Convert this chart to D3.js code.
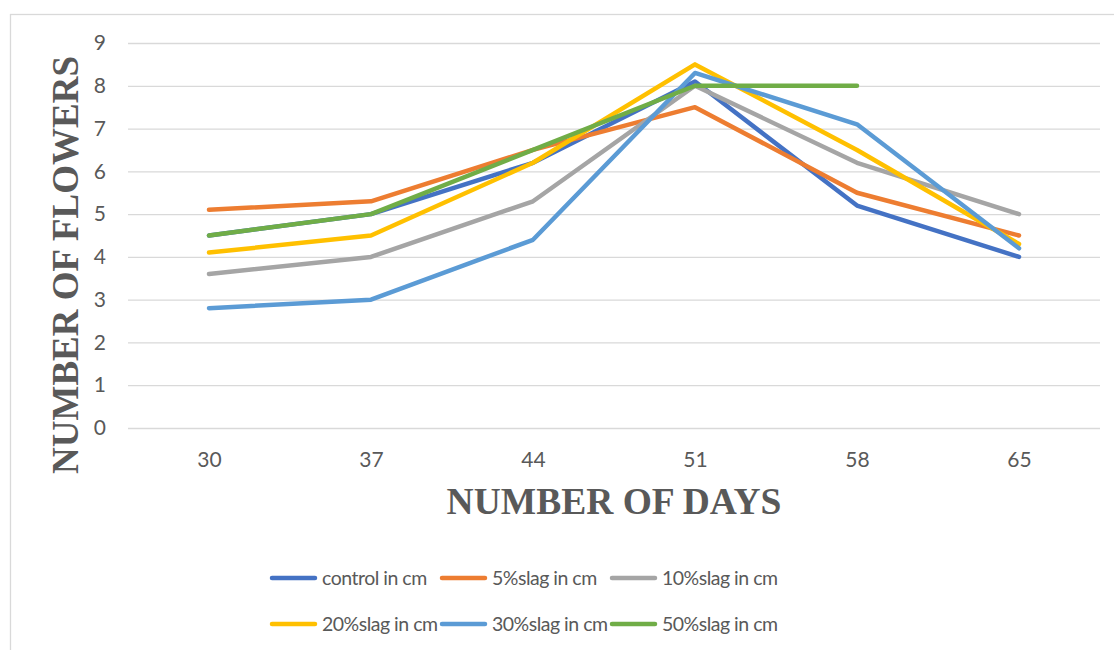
<!DOCTYPE html>
<html>
<head>
<meta charset="utf-8">
<script src="https://cdn.jsdelivr.net/npm/d3@7"></script>
<style>
  html, body { margin: 0; padding: 0; background: #fff; }
  svg { display: block; }
</style>
</head>
<body>
<svg id="chart" width="1114" height="650"></svg>
<script>
const days = ["30", "37", "44", "51", "58", "65"];
const yTicks = [0, 1, 2, 3, 4, 5, 6, 7, 8, 9];
const seriesNames = ["control in cm", "5%slag in cm", "10%slag in cm", "20%slag in cm", "30%slag in cm", "50%slag in cm"];
const control = [4.5, 5.0, 6.2, 8.1, 5.2, 4.0];
const slag5 = [5.1, 5.3, 6.5, 7.5, 5.5, 4.5];
const slag10 = [3.6, 4.0, 5.3, 8.0, 6.2, 5.0];
const slag20 = [4.1, 4.5, 6.2, 8.5, 6.5, 4.3];
const slag30 = [2.8, 3.0, 4.4, 8.3, 7.1, 4.2];
const slag50 = [4.5, 5.0, 6.5, 8.0, 8.0, null];
const colors = ["#4472C4", "#ED7D31", "#A5A5A5", "#FFC000", "#5B9BD5", "#70AD47"];
const yTitle = "NUMBER OF FLOWERS";
const xTitle = "NUMBER OF DAYS";

(function () {
const allSeries = [control, slag5, slag10, slag20, slag30, slag50];

const svg = d3.select("#chart");
const pLeft = 128, pRight = 1100, pTop = 43, pBottom = 428;

// outer chart border
svg.append("rect")
  .attr("x", 10.5).attr("y", 14.5)
  .attr("width", 1200).attr("height", 700)
  .attr("fill", "none").attr("stroke", "#d9d9d9").attr("stroke-width", 1.3);

const x = d3.scalePoint().domain(days).range([pLeft, pRight]).padding(0.5);
const y = d3.scaleLinear().domain([0, 9]).range([pBottom, pTop]);

// gridlines + y labels
const yAxis = d3.axisLeft(y).tickValues(yTicks).tickSize(-(pRight - pLeft)).tickPadding(22).tickFormat(d3.format("d"));
const gy = svg.append("g").attr("transform", `translate(${pLeft},0)`).call(yAxis);
gy.select(".domain").remove();
gy.selectAll(".tick line").attr("stroke", "#d9d9d9").attr("stroke-width", 1.3);
gy.selectAll(".tick text")
  .attr("fill", "#595959")
  .style("font-family", "Lato, 'Open Sans', sans-serif")
  .style("font-size", "21px");

// x labels
const xAxis = d3.axisBottom(x).tickSize(0).tickPadding(0);
const gx = svg.append("g").attr("transform", `translate(0,${pBottom})`).call(xAxis);
gx.select(".domain").remove();
gx.selectAll(".tick text")
  .attr("fill", "#595959")
  .attr("dy", null)
  .attr("y", 39)
  .style("font-family", "Lato, 'Open Sans', sans-serif")
  .style("font-size", "21px");

// lines
const line = d3.line()
  .defined(d => d.v !== null)
  .x(d => x(d.day))
  .y(d => y(d.v));

allSeries.forEach((vals, i) => {
  const pts = days.map((day, j) => ({ day, v: vals[j] }));
  svg.append("path")
    .datum(pts)
    .attr("d", line)
    .attr("fill", "none")
    .attr("stroke", colors[i])
    .attr("stroke-width", 4.5)
    .attr("stroke-linecap", "round")
    .attr("stroke-linejoin", "round");
});

// axis titles
svg.append("text")
  .attr("transform", `translate(78,265) rotate(-90)`)
  .attr("text-anchor", "middle")
  .attr("fill", "#595959")
  .style("font-family", "'Liberation Serif', 'Times New Roman', serif")
  .style("font-weight", "bold")
  .style("font-size", "37px")
  .text(yTitle);

svg.append("text")
  .attr("x", 614).attr("y", 514)
  .attr("text-anchor", "middle")
  .attr("fill", "#595959")
  .style("font-family", "'Liberation Serif', 'Times New Roman', serif")
  .style("font-weight", "bold")
  .style("font-size", "37.5px")
  .text(xTitle);

// legend
const legendX = [272, 442, 612];
const legendY = [578, 624];
seriesNames.forEach((name, i) => {
  const col = i % 3, row = Math.floor(i / 3);
  const g = svg.append("g").attr("transform", `translate(${legendX[col]},${legendY[row]})`);
  g.append("line")
    .attr("x1", 0).attr("x2", 43).attr("y1", 0).attr("y2", 0)
    .attr("stroke", colors[i]).attr("stroke-width", 4.5).attr("stroke-linecap", "round");
  g.append("text")
    .attr("x", 50).attr("y", 0).attr("dy", "0.36em")
    .attr("fill", "#595959")
    .style("font-family", "Lato, 'Open Sans', sans-serif")
    .style("font-size", "19.5px")
    .style("letter-spacing", "-0.5px")
    .text(name);
});
})();
</script>
</body>
</html>
